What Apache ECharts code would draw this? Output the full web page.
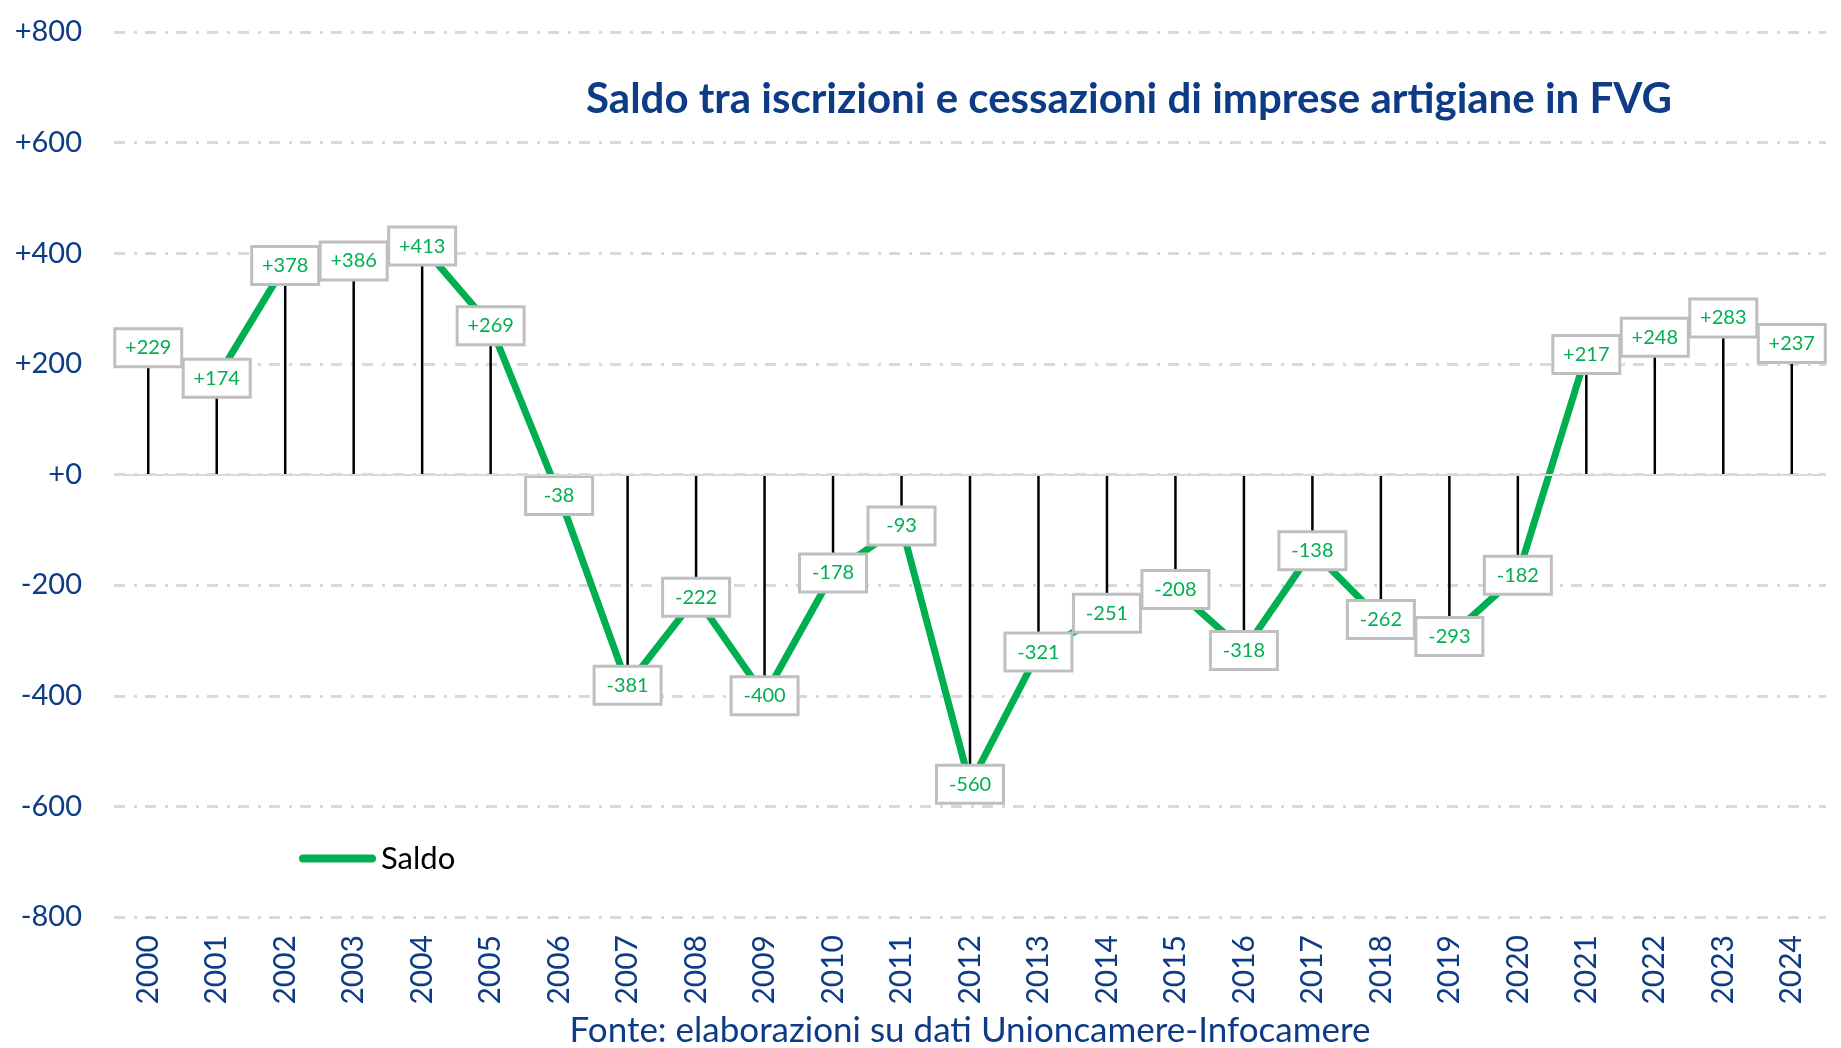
<!DOCTYPE html>
<html>
<head>
<meta charset="utf-8">
<script src="https://cdn.jsdelivr.net/npm/echarts@6/dist/echarts.min.js"></script>
<style>
  html, body { margin: 0; padding: 0; background: #fff; }
  #chart { width: 1841px; height: 1048px; }
</style>
</head>
<body>
<div id="chart"></div>
<script>
const years = ["2000", "2001", "2002", "2003", "2004", "2005", "2006", "2007", "2008", "2009",
  "2010", "2011", "2012", "2013", "2014", "2015", "2016", "2017", "2018", "2019",
  "2020", "2021", "2022", "2023", "2024"];
const saldo = [229, 174, 378, 386, 413, 269, -38, -381, -222, -400,
  -178, -93, -560, -321, -251, -208, -318, -138, -262, -293,
  -182, 217, 248, 283, 237];
const yTicks = { min: -800, max: 800, step: 200 };

const BLUE = "#0d3b85";
const GREEN = "#00b050";
const GRID_GRAY = "#d9d9d9";
const FONT = "Lato, 'Open Sans', sans-serif";

const signed = (v) => (v >= 0 ? "+" + v : String(v));

const chart = echarts.init(document.getElementById("chart"));

chart.setOption({
  animation: false,
  textStyle: { fontFamily: FONT },
  grid: { left: 114, right: 15, top: 32, bottom: 131 },
  legend: {
    left: 299,
    top: 843,
    padding: 0,
    data: ["Saldo"],
    icon: "path://M4,0 H73 A4,4 0 0 1 73,8 H4 A4,4 0 0 1 4,0 Z",
    itemWidth: 77,
    itemHeight: 8,
    itemGap: 6,
    textStyle: { color: "#000", fontSize: 31, fontFamily: FONT, padding: [0, 0, 0, 0] },
  },
  xAxis: {
    type: "category",
    data: years,
    axisLine: { show: false },
    axisTick: { show: false },
    axisLabel: { rotate: 90, color: BLUE, fontSize: 30, margin: 18, fontFamily: FONT },
  },
  yAxis: {
    type: "value",
    min: yTicks.min,
    max: yTicks.max,
    interval: yTicks.step,
    axisLine: { show: false },
    axisTick: { show: false },
    axisLabel: { color: BLUE, fontSize: 29, margin: 32, fontFamily: FONT, formatter: signed },
    splitLine: { lineStyle: { color: GRID_GRAY, width: 3, type: [11, 9, 3, 8] } },
  },
  graphic: [
    {
      type: "text",
      x: 1129,
      y: 99,
      style: {
        text: "Saldo tra iscrizioni e cessazioni di imprese artigiane in FVG",
        fill: BLUE,
        font: "bold 42px " + FONT,
        textAlign: "center",
        textVerticalAlign: "middle",
      },
    },
    {
      type: "text",
      x: 970,
      y: 1031,
      style: {
        text: "Fonte: elaborazioni su dati Unioncamere-Infocamere",
        fill: BLUE,
        font: "35px " + FONT,
        textAlign: "center",
        textVerticalAlign: "middle",
      },
    },
  ],
  series: [
    {
      name: "drop",
      type: "bar",
      data: saldo,
      barWidth: 2.5,
      itemStyle: { color: "#000" },
      z: 1,
      silent: true,
      markLine: {
        silent: true,
        symbol: "none",
        label: { show: false },
        lineStyle: { color: GRID_GRAY, width: 2, type: "solid" },
        data: [{ yAxis: 0 }],
      },
    },
    {
      name: "Saldo",
      type: "line",
      data: saldo,
      z: 3,
      symbol: "circle",
      symbolSize: 1,
      itemStyle: { color: GREEN },
      lineStyle: { color: GREEN, width: 7 },
      label: {
        show: true,
        position: "inside",
        formatter: (p) => signed(p.value),
        color: GREEN,
        fontSize: 20,
        fontFamily: FONT,
        backgroundColor: "#fff",
        borderColor: "#bfbfbf",
        borderWidth: 3,
        width: 64,
        height: 35,
        lineHeight: 35,
        align: "center",
        verticalAlign: "middle",
      },
    },
  ],
});
</script>
</body>
</html>
